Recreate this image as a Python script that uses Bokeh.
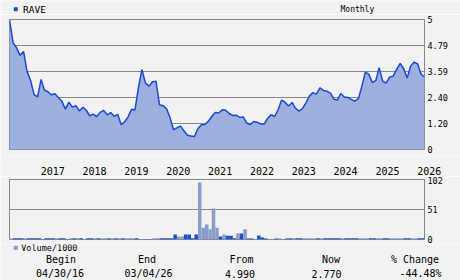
import pandas as pd
from bokeh.plotting import figure
from bokeh.layouts import column, row
from bokeh.models import Range1d, FixedTicker, CustomJSTickFormatter, ColumnDataSource
from bokeh.core.properties import value
from bokeh.embed import file_html
from bokeh.resources import INLINE

# ---------------- data ----------------
symbol = "RAVE"
period_label = "Monthly"
volume_label = "Volume/1000"
first_month_end = "2016-04-30"

price = [
    5.98, 4.92, 4.69, 4.34, 4.52, 3.60, 3.18, 2.54, 2.42, 3.23,
    2.74, 2.66, 2.52, 2.57, 2.40, 2.22, 1.86, 2.18, 1.95, 2.02,
    1.78, 1.94, 1.82, 1.55, 1.63, 1.52, 1.71, 1.80, 1.60, 1.70,
    1.53, 1.62, 1.14, 1.29, 1.49, 1.85, 1.82, 2.88, 3.68, 3.06,
    2.92, 3.12, 3.14, 2.06, 2.02, 1.88, 1.49, 0.91, 1.00, 1.08,
    0.86, 0.66, 0.62, 0.60, 0.97, 1.14, 1.15, 1.31, 1.52, 1.70,
    1.68, 1.83, 1.81, 1.66, 1.57, 1.58, 1.48, 1.50, 1.22, 1.15,
    1.29, 1.26, 1.18, 1.17, 1.43, 1.60, 1.52, 1.83, 2.28, 2.18,
    2.00, 2.17, 1.91, 1.77, 1.88, 2.15, 2.46, 2.62, 2.55, 2.84,
    2.72, 2.69, 2.60, 2.32, 2.28, 2.58, 2.42, 2.40, 2.31, 2.23,
    2.34, 2.91, 3.57, 3.46, 3.08, 3.18, 3.77, 3.15, 3.06, 3.34,
    3.37, 3.69, 3.97, 3.72, 3.29, 3.85, 4.03, 3.94, 3.48, 3.34,
]

volume = [
    1.7, 2.3, 2.3, 2.3, 2.3, 2.3, 2.3, 2.3, 2.3, 0.6,
    2.3, 2.3, 2.3, 2.3, 2.3, 2.3, 0.6, 2.3, 2.3, 2.3,
    2.3, 0.6, 2.3, 2.3, 2.3, 2.3, 2.3, 2.3, 2.3, 2.3,
    2.3, 2.3, 2.3, 2.3, 2.3, 2.3, 2.3, 0.6, 0.6, 0.6,
    0.6, 2.3, 2.3, 2.3, 2.3, 2.3, 2.3, 8.5, 5.1, 5.1,
    8.5, 8.5, 2.3, 8.5, 97.0, 20.0, 25.5, 17.6, 52.7, 20.0,
    5.1, 8.5, 6.2, 6.2, 2.3, 10.2, 10.2, 17.6, 1.7, 1.7,
    1.0, 6.8, 3.4, 1.7, 0.6, 0.6, 1.7, 1.7, 1.0, 1.7,
    2.3, 2.3, 2.3, 2.3, 2.3, 2.3, 2.3, 2.3, 2.3, 2.3,
    2.3, 2.3, 2.3, 2.3, 2.3, 2.3, 2.3, 2.3, 2.3, 2.3,
    2.3, 2.3, 2.3, 2.3, 2.3, 2.3, 2.3, 2.3, 2.3, 2.3,
    2.3, 2.3, 2.3, 2.3, 2.3, 2.3, 2.3, 2.3, 2.3, 2.3,
]

price_ticks = [0, 1.198, 2.396, 3.594, 4.792, 5.99]
price_tick_labels = ["0", "1.20", "2.40", "3.59", "4.79", "5"]
vol_ticks = [0, 51, 102]
vol_tick_labels = ["0", "51", "102"]
years = [2017, 2018, 2019, 2020, 2021, 2022, 2023, 2024, 2025, 2026]

summary_heads = ["Begin", "End", "From", "Now", "% Change"]
summary_vals = ["04/30/16", "03/04/26", "4.990", "2.770", "-44.48%"]

# ---------------- styles ----------------
BG = "#f2f2f2"
GRID = "#888888"
FILL = "#9cafdf"
LINE = "#1a4ad2"
DARK = "#1a4fc8"
LIGHT = "#8a9bcc"
FONT = value("DejaVu Sans Mono")
W = 460
LEFT, RIGHT = 9, 36          # frame borders of the two chart panels

dates = pd.date_range(first_month_end, periods=len(price), freq=pd.offsets.MonthEnd())
next_dates = dates + pd.offsets.MonthEnd(1)
t0 = dates[0].value / 1e6
t1 = dates[-1].value / 1e6

up = [True] + [price[i] >= price[i - 1] for i in range(1, len(price))]
bar_colors = [LIGHT if u else DARK for u in up]

src = ColumnDataSource(dict(date=dates, price=price))
vsrc = ColumnDataSource(dict(left=dates, right=next_dates, vol=volume, color=bar_colors))


def plain(h, xr, yr):
    f = figure(width=W, height=h, x_range=xr, y_range=yr, output_backend="svg",
               toolbar_location=None, x_axis_location=None, y_axis_location=None,
               min_border=0)
    f.background_fill_color = BG
    f.border_fill_color = BG
    f.outline_line_color = None
    f.grid.visible = False
    f.title.visible = False
    return f


def txt(f, xs, ys, texts, size, align, x_offset=0):
    f.text(x=xs, y=ys, text=texts, text_font=FONT, text_font_size=size,
           text_align=align, text_baseline="middle", text_color="#000000", x_offset=x_offset)


def style_right_axis(f, ticks, tick_labels):
    ax = f.yaxis[0]
    ax.ticker = FixedTicker(ticks=ticks)
    ax.formatter = CustomJSTickFormatter(args=dict(labels=tick_labels), code="return labels[index]")
    ax.axis_line_color = None
    ax.major_tick_line_color = None
    ax.minor_tick_line_color = None
    ax.major_tick_out = 0
    ax.major_tick_in = 0
    ax.major_label_standoff = 3
    ax.major_label_text_font = "DejaVu Sans Mono"
    ax.major_label_text_font_size = "8.5px"
    ax.major_label_text_color = "#000000"
    f.ygrid.ticker = FixedTicker(ticks=ticks)
    f.ygrid.grid_line_color = GRID
    f.ygrid.grid_line_width = 1
    f.xgrid.visible = False


def panel(h, yr, top, bottom):
    f = figure(width=W, height=h, x_range=xr, y_range=yr, output_backend="svg",
               toolbar_location=None, x_axis_location=None, y_axis_location="right",
               min_border_left=LEFT, min_border_right=RIGHT, min_border_top=top,
               min_border_bottom=bottom)
    f.title.visible = False
    f.background_fill_color = BG
    f.border_fill_color = BG
    f.outline_line_color = GRID
    f.outline_line_width = 1
    return f


# header (canvas-pixel coordinates)
hdr = plain(14, Range1d(0, W), Range1d(14, 0))
hdr.scatter(x=[15.3], y=[8.8], marker="square", size=4, fill_color=DARK, line_color=None)
txt(hdr, [22.5], [9], [symbol], "9.5px", "left")
txt(hdr, [340], [9], [period_label], "8px", "left")

# price panel
xr = Range1d(t0, t1)
p1 = panel(141, Range1d(0, 5.99), 5, 6)
style_right_axis(p1, price_ticks, price_tick_labels)
p1.varea(x="date", y1=0, y2="price", source=src, fill_color=FILL)
p1.line(x="date", y="price", source=src, line_color=LINE, line_width=1.5)

# year label strip: full-width frame on the panels' time scale
k = (W - LEFT - RIGHT) / (t1 - t0)
strip = plain(21, Range1d(t0 - LEFT / k, t0 + (W - LEFT) / k), Range1d(21, 0))
year_dates = [pd.Timestamp(f"{y}-01-01").value / 1e6 for y in years]
txt(strip, year_dates, [15] * len(years), [str(y) for y in years], "10px", "left", x_offset=3)

# volume panel
p2 = panel(68, Range1d(0, 102), 3, 5)
style_right_axis(p2, vol_ticks, vol_tick_labels)
p2.quad(left="left", right="right", bottom=0, top="vol", fill_color="color",
        line_color=None, source=vsrc)

# footer (canvas-pixel coordinates)
ftr = plain(36, Range1d(0, W), Range1d(36, 0))
ftr.scatter(x=[15.3], y=[3.2], marker="square", size=4, fill_color=LIGHT, line_color=None)
txt(ftr, [20.7], [3.0], [volume_label], "8.5px", "left")
txt(ftr, [60.5, 146.5, 241, 330.5, 414.5], [15] * 5, summary_heads, "10px", "center")
txt(ftr, [59.5, 148, 239.5, 326, 420], [29.3] * 5, summary_vals, "10px", "center")

layout = column(row(hdr), column(p1), row(strip), column(p2), row(ftr), spacing=0)
open("out.html", "w").write(file_html(layout, INLINE))
